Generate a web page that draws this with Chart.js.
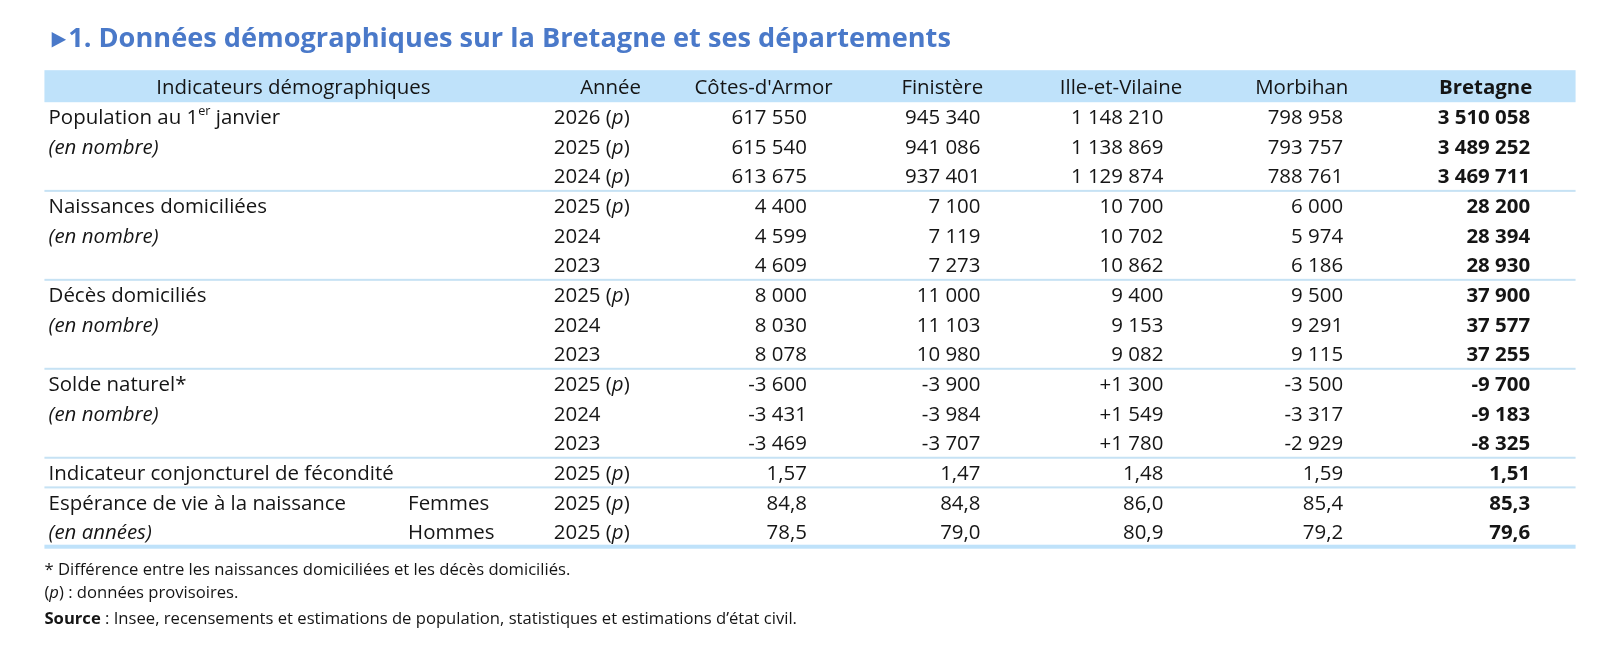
<!DOCTYPE html>
<html lang="fr">
<head>
<meta charset="utf-8">
<script src="https://cdn.jsdelivr.net/npm/chart.js@4.4.1/dist/chart.umd.min.js"></script>
<style>
  html, body { margin: 0; padding: 0; background: #fff; }
  #wrap { width: 1620px; height: 672px; }
</style>
</head>
<body>
<div id="wrap"><canvas id="chart" width="1620" height="672"></canvas></div>
<script>
// ---- data ----
const titleText = '1. Données démographiques sur la Bretagne et ses départements';
const headers = ['Indicateurs démographiques', 'Année', "Côtes-d'Armor", 'Finistère', 'Ille-et-Vilaine', 'Morbihan', 'Bretagne'];

const indicatorLabels = ['Population au 1^{er} janvier', 'Naissances domiciliées', 'Décès domiciliés',
  'Solde naturel*', 'Indicateur conjoncturel de fécondité', 'Espérance de vie à la naissance'];
const indicatorUnits = ['(en nombre)', '(en nombre)', '(en nombre)', '(en nombre)', '', '(en années)'];
const indicatorRowCount = [3, 3, 3, 3, 1, 2];
const indicatorDecimals = [0, 0, 0, 0, 2, 1];
const indicatorSigned = [false, false, false, true, false, false];

const years = ['2026 (p)', '2025 (p)', '2024 (p)',
  '2025 (p)', '2024', '2023',
  '2025 (p)', '2024', '2023',
  '2025 (p)', '2024', '2023',
  '2025 (p)',
  '2025 (p)', '2025 (p)'];
const sexes = ['', '', '', '', '', '', '', '', '', '', '', '', '', 'Femmes', 'Hommes'];

const cotesArmor = [617550, 615540, 613675, 4400, 4599, 4609, 8000, 8030, 8078, -3600, -3431, -3469, 1.57, 84.8, 78.5];
const finistere = [945340, 941086, 937401, 7100, 7119, 7273, 11000, 11103, 10980, -3900, -3984, -3707, 1.47, 84.8, 79.0];
const illeEtVilaine = [1148210, 1138869, 1129874, 10700, 10702, 10862, 9400, 9153, 9082, 1300, 1549, 1780, 1.48, 86.0, 80.9];
const morbihan = [798958, 793757, 788761, 6000, 5974, 6186, 9500, 9291, 9115, -3500, -3317, -2929, 1.59, 85.4, 79.2];
const bretagne = [3510058, 3489252, 3469711, 28200, 28394, 28930, 37900, 37577, 37255, -9700, -9183, -8325, 1.51, 85.3, 79.6];

const footnotes = [
  '* Différence entre les naissances domiciliées et les décès domiciliés.',
  '(p) : données provisoires.',
  '**Source** : Insee, recensements et estimations de population, statistiques et estimations d\u2019état civil.'
];

// ---- layout (in view units, 1568 wide; scaled onto the 1620 canvas) ----
const VIEW_W = 1568;
const K = 1620 / VIEW_W;
const FONT = '"Open Sans", "Noto Sans", sans-serif';
const BODY_SIZE = 19.8 * K;
const NOTE_SIZE = 16.1 * K;
const TITLE_SIZE = 26.3 * K;
const TEXT_DY = 1.5;        // optical centring of text in its row
const ROW_PITCH = 28.7;     // view units per row
const FIRST_ROW_Y = 113;    // centre of first data row
const TABLE_LEFT = 43, TABLE_RIGHT = 1525;
const BLUE_TITLE = '#4a79c9';
const BLUE_BAND = '#bfe2fa';
const BLUE_RULE = '#c6e2f4';
const INK = '#151515';

const colLabelX = 47, colSexX = 395, colYearX = 536;
const valueRightX = [781, 949, 1126, 1300, 1481];
const headerCentreX = [284, 591, 739, 912, 1085, 1260, 1438];

// ---- helpers ----
function formatValue(v, dec, signed) {
  const parts = Math.abs(v).toFixed(dec).split('.');
  const intPart = parts[0].replace(/\B(?=(\d{3})+(?!\d))/g, ' ');
  let s = intPart + (parts[1] ? ',' + parts[1] : '');
  if (v < 0) s = '-' + s;
  else if (signed && v > 0) s = '+' + s;
  return s;
}

// markers: **bold**, ^{sup}, (p) with italic p
function segments(text, base) {
  const out = [];
  const re = /\*\*(.+?)\*\*|\^\{(.+?)\}|\((p)\)/g;
  const seg = (t, o) => Object.assign({ t: t, style: base.style, weight: base.weight, size: base.size, dy: 0 }, o || {});
  let last = 0, m;
  while ((m = re.exec(text)) !== null) {
    if (m.index > last) out.push(seg(text.slice(last, m.index)));
    if (m[1]) out.push(seg(m[1], { weight: 'bold' }));
    else if (m[2]) out.push(seg(m[2], { size: base.size * 0.62, dy: -base.size * 0.33 }));
    else { out.push(seg('(')); out.push(seg('p', { style: 'italic' })); out.push(seg(')')); }
    last = re.lastIndex;
  }
  if (last < text.length) out.push(seg(text.slice(last)));
  return out;
}

function drawRich(ctx, text, x, y, opt) {
  const segs = segments(text, opt);
  let total = 0;
  segs.forEach(s => {
    ctx.font = `${s.style} ${s.weight} ${s.size}px ${FONT}`;
    s.w = ctx.measureText(s.t).width;
    total += s.w;
  });
  let cx = x;
  if (opt.align === 'right') cx = x - total;
  else if (opt.align === 'center') cx = x - total / 2;
  ctx.fillStyle = opt.color || INK;
  ctx.textBaseline = 'middle';
  ctx.textAlign = 'left';
  segs.forEach(s => {
    ctx.font = `${s.style} ${s.weight} ${s.size}px ${FONT}`;
    ctx.fillText(s.t, cx, y + s.dy + TEXT_DY);
    cx += s.w;
  });
}

// ---- datasets: one per text column, one point per cell ----
function cell(x, row, text) { return { x: x, y: row, text: text }; }

const labelCells = [], unitCells = [];
let r = 0;
indicatorLabels.forEach((lab, i) => {
  labelCells.push(cell(colLabelX, r, lab));
  if (indicatorUnits[i]) unitCells.push(cell(colLabelX, r + 1, indicatorUnits[i]));
  r += indicatorRowCount[i];
});

const rowIndicator = [];
indicatorRowCount.forEach((n, i) => { for (let k = 0; k < n; k++) rowIndicator.push(i); });

function valueCells(values, x) {
  return values.map((v, i) => cell(x, i, formatValue(v, indicatorDecimals[rowIndicator[i]], indicatorSigned[rowIndicator[i]])));
}

const datasets = [
  { label: 'headers', data: headers.map((h, i) => cell(headerCentreX[i], -1, h)),
    align: 'center', weightFn: i => (i === headers.length - 1 ? 'bold' : 'normal') },
  { label: 'indicateurs', data: labelCells, align: 'left' },
  { label: 'unites', data: unitCells, align: 'left', style: 'italic' },
  { label: 'sexe', data: sexes.map((s, i) => cell(colSexX, i, s)).filter(c => c.text), align: 'left' },
  { label: 'annee', data: years.map((y, i) => cell(colYearX, i, y)), align: 'left' },
  { label: "Côtes-d'Armor", data: valueCells(cotesArmor, valueRightX[0]), align: 'right' },
  { label: 'Finistère', data: valueCells(finistere, valueRightX[1]), align: 'right' },
  { label: 'Ille-et-Vilaine', data: valueCells(illeEtVilaine, valueRightX[2]), align: 'right' },
  { label: 'Morbihan', data: valueCells(morbihan, valueRightX[3]), align: 'right' },
  { label: 'Bretagne', data: valueCells(bretagne, valueRightX[4]), align: 'right', weight: 'bold' },
  { label: 'notes', data: [cell(43, 15.23, footnotes[0]), cell(43, 16.03, footnotes[1]), cell(43, 16.9, footnotes[2])],
    align: 'left', size: NOTE_SIZE },
  { label: 'titre', data: [cell(66, -2.65, titleText)], align: 'left', weight: 'bold', size: TITLE_SIZE, color: BLUE_TITLE }
].map(d => Object.assign({ pointRadius: 0, pointHoverRadius: 0, showLine: false }, d));

// ---- table plugin: band, rules and cell texts placed through the scales ----
const tablePlugin = {
  id: 'tableText',
  beforeDatasetsDraw(chart) {
    const { ctx, scales: { x, y } } = chart;
    ctx.save();
    ctx.fillStyle = '#fff';
    ctx.fillRect(0, 0, chart.width, chart.height);
    const x0 = x.getPixelForValue(TABLE_LEFT), x1 = x.getPixelForValue(TABLE_RIGHT);
    // header band
    const yTop = y.getPixelForValue(-1.57), yBot = y.getPixelForValue(-0.49);
    ctx.fillStyle = BLUE_BAND;
    ctx.fillRect(x0, yTop, x1 - x0, yBot - yTop);
    // group rules
    ctx.fillStyle = BLUE_RULE;
    [2.5, 5.5, 8.5, 11.5, 12.5].forEach(b => {
      ctx.fillRect(x0, y.getPixelForValue(b) - 1, x1 - x0, 2);
    });
    ctx.fillStyle = BLUE_BAND;
    ctx.fillRect(x0, y.getPixelForValue(14.5) - 2, x1 - x0, 4);
    // title marker
    const ty = y.getPixelForValue(-2.65) + TEXT_DY;
    const tx = x.getPixelForValue(50);
    ctx.fillStyle = BLUE_TITLE;
    ctx.beginPath();
    ctx.moveTo(tx, ty - 7.5 * K);
    ctx.lineTo(tx + 14 * K, ty);
    ctx.lineTo(tx, ty + 7.5 * K);
    ctx.closePath();
    ctx.fill();
    ctx.restore();
  },
  afterDatasetsDraw(chart) {
    const { ctx } = chart;
    ctx.save();
    chart.data.datasets.forEach((ds, di) => {
      const meta = chart.getDatasetMeta(di);
      meta.data.forEach((el, i) => {
        drawRich(ctx, ds.data[i].text, el.x, el.y, {
          align: ds.align,
          style: ds.style || 'normal',
          weight: ds.weightFn ? ds.weightFn(i) : (ds.weight || 'normal'),
          size: ds.size || BODY_SIZE,
          color: ds.color
        });
      });
    });
    ctx.restore();
  }
};

new Chart(document.getElementById('chart'), {
  type: 'scatter',
  data: { datasets: datasets },
  options: {
    responsive: false,
    animation: false,
    events: [],
    layout: { padding: 0 },
    plugins: { legend: { display: false }, tooltip: { enabled: false }, title: { display: false } },
    scales: {
      x: { type: 'linear', min: 0, max: VIEW_W, display: false },
      y: { type: 'linear', reverse: true, display: false,
           min: -FIRST_ROW_Y / ROW_PITCH, max: (672 / K - FIRST_ROW_Y) / ROW_PITCH }
    }
  },
  plugins: [tablePlugin]
});
</script>
</body>
</html>
